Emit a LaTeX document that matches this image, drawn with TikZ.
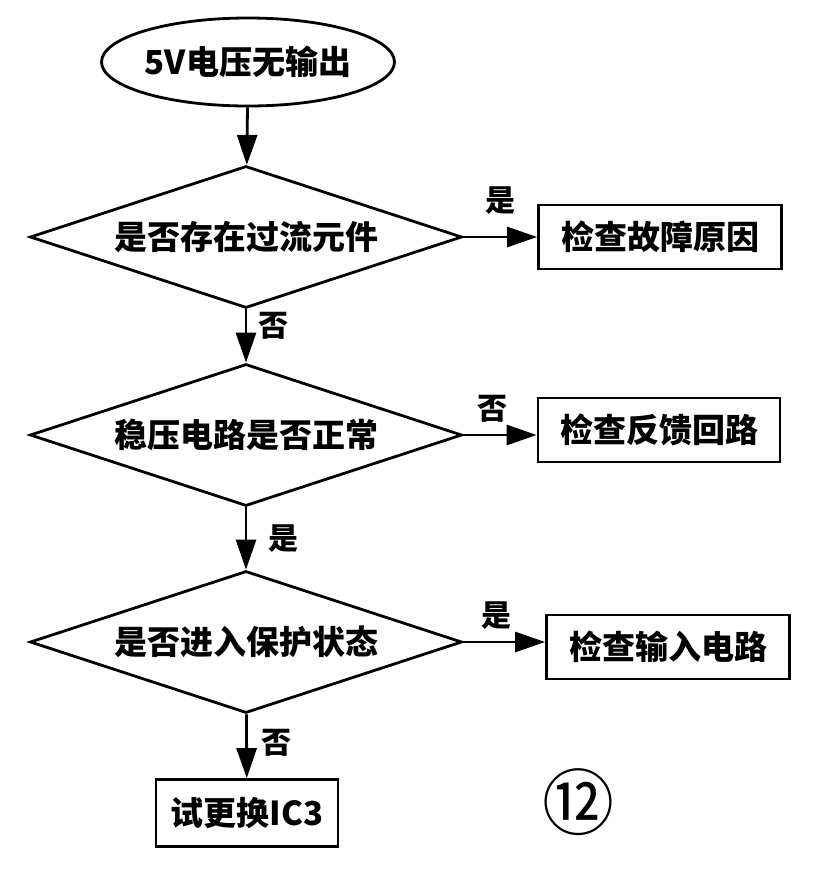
\documentclass[tikz,border=0pt]{standalone}
\usepackage{fontspec}
\newfontfamily\cjk{Noto Sans CJK SC}
\usetikzlibrary{shapes.geometric, arrows.meta, positioning}

\tikzset{
	txt/.style={font=\cjk\bfseries\fontsize{33}{36}\selectfont},
	start/.style={txt, draw, ellipse, minimum width=293pt, minimum height=88pt, inner sep=0pt},
	check/.style={txt, draw, diamond, aspect=3, minimum width=432pt, minimum height=142pt, inner sep=0pt},
	result/.style={txt, draw, rectangle, minimum height=64pt, inner sep=0pt},
	yesno/.style={font=\cjk\bfseries\fontsize{30}{32}\selectfont},
	arr/.style={-{Triangle[length=30pt, width=20pt]}}
}

\begin{document}
\begin{tikzpicture}[x=1pt, y=-1pt, line width=2.8pt]
	\useasboundingbox (0,0) rectangle (840,879);

	\node[start] (nopower) at (248,62) {5V电压无输出};

	\node[check] (overcur) at (246,237) {是否存在过流元件};
	\node[check] (regok) at (246,435) {稳压电路是否正常};
	\node[check] (protect) at (246,642) {是否进入保护状态};

	\node[result, minimum width=243pt] (fault) at (660,237) {检查故障原因};
	\node[result, minimum width=242pt] (feedback) at (659,430) {检查反馈回路};
	\node[result, minimum width=243pt] (input) at (668,647) {检查输入电路};
	\node[result, minimum width=182pt, minimum height=67pt] (swapic) at (247,813) {试更换IC3};

	\draw[arr] (nopower) -- (overcur);
	\draw[arr] (overcur) -- node[yesno, right=8pt, pos=0.3] (no1) {否} (regok);
	\draw[arr] (regok) -- node[yesno, right=18pt, pos=0.5] (yes2) {是} (protect);
	\draw[arr] (protect) -- node[yesno, right=10pt, pos=0.45] (no3) {否} (swapic);

	\draw[arr] (overcur.east) -- node[yesno, above=18pt, pos=0.5] (yes1) {是} (overcur.east -| fault.west);
	\draw[arr] (regok.east) -- node[yesno, above=8pt, pos=0.4] (no2) {否} (regok.east -| feedback.west);
	\draw[arr] (protect.east) -- node[yesno, above=8pt, pos=0.4] (yes3) {是} (protect.east -| input.west);

	\node[font=\cjk\fontsize{72}{72}\selectfont] (fignum) at (578,802) {⑫};
\end{tikzpicture}
\end{document}
